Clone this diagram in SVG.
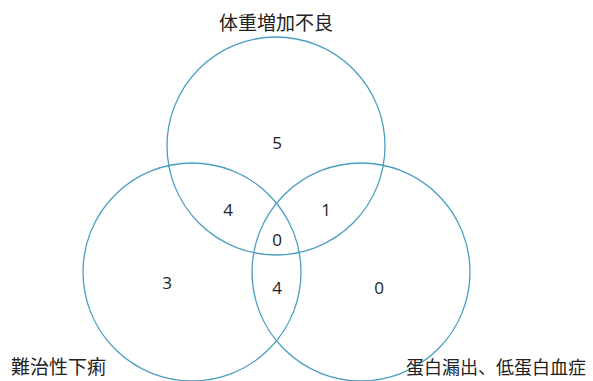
<svg xmlns="http://www.w3.org/2000/svg" width="593" height="381" viewBox="0 0 593 381">
<style>
.c{fill:none;stroke:#4b9ec2;stroke-width:1.3}
.lbl{font-family:"Noto Sans CJK JP","Noto Sans CJK SC",sans-serif;font-size:19px;fill:#222}
.n{font-family:"Open Sans","Liberation Sans",sans-serif;font-size:17px;fill:#222;text-anchor:middle}
</style>
<rect width="593" height="381" fill="#fff"/>
<g id="set-top">
<circle class="c" cx="276" cy="146" r="109"/>
<text class="lbl" x="276" y="30" text-anchor="middle">体重増加不良</text>
</g>
<g id="set-left">
<circle class="c" cx="192" cy="272" r="109"/>
<text class="lbl" x="11" y="374">難治性下痢</text>
</g>
<g id="set-right">
<circle class="c" cx="361" cy="272" r="109"/>
<text class="lbl" x="406" y="374" style="font-size:18px">蛋白漏出、低蛋白血症</text>
</g>
<g id="counts">
<text class="n" x="277" y="149">5</text>
<text class="n" x="228" y="216">4</text>
<text class="n" x="326" y="216">1</text>
<text class="n" x="277" y="246">0</text>
<text class="n" x="167" y="289">3</text>
<text class="n" x="277" y="294">4</text>
<text class="n" x="379" y="294">0</text>
</g>
</svg>
